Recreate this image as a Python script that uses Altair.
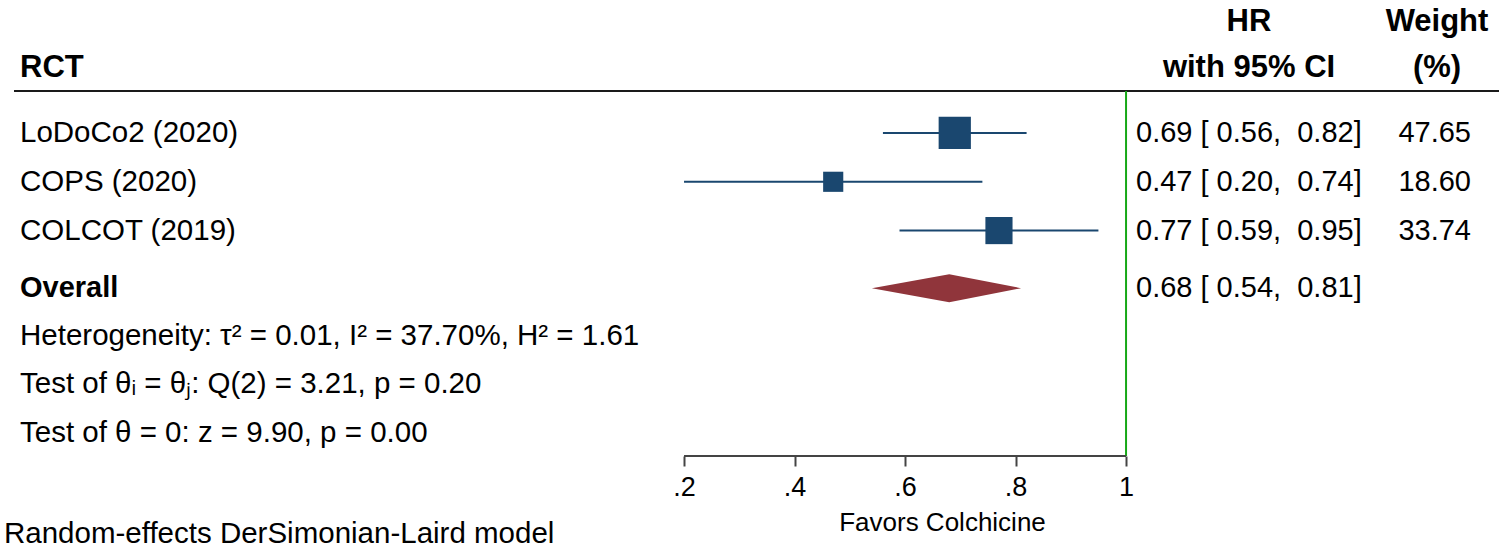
import altair as alt
import pandas as pd

# ---------------- data ----------------
studies = ["LoDoCo2 (2020)", "COPS (2020)", "COLCOT (2019)"]
hr = [0.69, 0.47, 0.77]
ci_low = [0.56, 0.20, 0.59]
ci_high = [0.82, 0.74, 0.95]
weights = [47.65, 18.60, 33.74]
study_rows = [1, 2, 3]

overall_label = "Overall"
overall_hr = 0.68
overall_low = 0.54
overall_high = 0.81
overall_row = 4.18

stats_text = [
    "Heterogeneity: τ² = 0.01, I² = 37.70%, H² = 1.61",
    "Test of θᵢ = θⱼ: Q(2) = 3.21, p = 0.20",
    "Test of θ = 0: z = 9.90, p = 0.00",
]
stats_rows = [5.15, 6.15, 7.15]

tick_values = [0.2, 0.4, 0.6, 0.8, 1.0]
null_value = 1.0
x_title = "Favors Colchicine"
note_text = "Random-effects DerSimonian-Laird model"
header_left = "RCT"
header_hr = ["HR", "with 95% CI"]
header_w = ["Weight", "(%)"]
header_rows = [-1.27, -0.33]
header_line_row = 0.139
row_min, row_max = -1.725, 7.619

# ---------------- styles ----------------
FONT = "Liberation Sans"
NAVY = "#1a476f"
MAROON = "#90353b"
GREEN = "#16a816"
BODY = 29.5
NUM = 29
HEAD = 31

W, H = 1499, 456

xscale = alt.Scale(domain=[-1.038, 1.675], nice=False, zero=False)
yscale = alt.Scale(domain=[row_min, row_max], reverse=True, nice=False, zero=False)

xaxis = alt.Axis(
    values=tick_values,
    labelExpr="datum.value == 1 ? '1' : replace(format(datum.value, '.1f'), '0.', '.')",
    domain=False, grid=False, ticks=True, tickSize=10, tickWidth=2, tickColor="#444444",
    labelFont=FONT, labelFontSize=27, labelColor="black", labelPadding=21,
    labelBaseline="middle", labelFlush=False, labelOverlap=False,
    title=x_title, titleFont=FONT, titleFontSize=26, titleFontWeight="normal",
    titleColor="black", titleX=942, titleY=66, titleBaseline="middle", titleAlign="center",
)
yaxis = None

def X(field):
    return alt.X(field, type="quantitative", scale=xscale, axis=xaxis)

def Y(field):
    return alt.Y(field, type="quantitative", scale=yscale, axis=yaxis)

studies_df = pd.DataFrame({
    "study": studies, "hr": hr, "lo": ci_low, "hi": ci_high, "w": weights, "row": study_rows,
})
studies_df["hrtext"] = [f"{a:.2f} [ {b:.2f},\u00a0 {c:.2f}]" for a, b, c in zip(hr, ci_low, ci_high)]
studies_df["wtext"] = [f"{w:.2f}" for w in weights]

half_h = 0.287
diamond_df = pd.DataFrame({
    "x": [overall_low, overall_hr, overall_high],
    "y": [overall_row, overall_row - half_h, overall_row],
    "y2": [overall_row, overall_row + half_h, overall_row],
})
overall_df = pd.DataFrame({
    "label": [overall_label], "row": [overall_row],
    "hrtext": [f"{overall_hr:.2f} [ {overall_low:.2f},\u00a0 {overall_high:.2f}]"],
})
stats_df = pd.DataFrame({"text": stats_text, "row": stats_rows})

# header rule
header_rule = alt.Chart(pd.DataFrame({"row": [header_line_row]})).mark_rule(
    color="#1a1a1a", strokeWidth=2
).encode(x=alt.value(14), x2=alt.value(W), y=Y("row"))

# null line
null_rule = alt.Chart(pd.DataFrame({"x": [null_value], "r1": [header_line_row], "r2": [row_max]})).mark_rule(
    color=GREEN, strokeWidth=2
).encode(x=X("x"), y=Y("r1"), y2=alt.Y2("r2"))

# axis baseline
axis_rule = alt.Chart(pd.DataFrame({"a": [tick_values[0]], "b": [tick_values[-1]], "row": [row_max]})).mark_rule(
    color="#444444", strokeWidth=2
).encode(x=X("a"), x2=alt.X2("b"), y=Y("row"))

ci = alt.Chart(studies_df).mark_rule(color=NAVY, strokeWidth=2).encode(
    x=X("lo"), x2=alt.X2("hi"), y=Y("row")
)
squares = alt.Chart(studies_df).mark_square(color=NAVY, opacity=1, filled=True).encode(
    x=X("hr"), y=Y("row"),
    size=alt.Size("w:Q", scale=alt.Scale(domain=[0, max(weights)], range=[0, 1040]), legend=None),
)
diamond = alt.Chart(diamond_df).mark_area(color=MAROON, opacity=1, orient="vertical").encode(
    x=X("x"), y=Y("y"), y2=alt.Y2("y2")
)

def text_layer(df, field, xpx, align="left", bold=False, size=BODY):
    return alt.Chart(df).mark_text(
        align=align, baseline="middle", font=FONT, fontSize=size,
        fontWeight="bold" if bold else "normal", color="black",
    ).encode(x=alt.value(xpx), y=Y("row"), text=alt.Text(field))

study_labels = text_layer(studies_df, "study", 20)
hr_texts = text_layer(studies_df, "hrtext", 1136, size=NUM)
w_texts = text_layer(studies_df, "wtext", 1471, align="right", size=NUM)
overall_lab = text_layer(overall_df, "label", 20, bold=True, size=29)
overall_hrtext = text_layer(overall_df, "hrtext", 1136, size=NUM)
stats_lab = text_layer(stats_df, "text", 20)

head_left = text_layer(pd.DataFrame({"t": [header_left], "row": [header_rows[1]]}), "t", 20, bold=True, size=HEAD)
head_hr = text_layer(pd.DataFrame({"t": header_hr, "row": header_rows}), "t", 1249, align="center", bold=True, size=HEAD)
head_w = text_layer(pd.DataFrame({"t": header_w, "row": header_rows}), "t", 1437, align="center", bold=True, size=HEAD)

note = alt.Chart(pd.DataFrame({"t": [note_text]})).mark_text(
    align="left", baseline="middle", font=FONT, fontSize=BODY, color="black"
).encode(x=alt.value(4), y=alt.value(534), text="t:N")

chart = alt.layer(
    header_rule, null_rule, axis_rule, ci, squares, diamond,
    study_labels, hr_texts, w_texts, overall_lab, overall_hrtext, stats_lab,
    head_left, head_hr, head_w, note,
).properties(
    width=W, height=H,
    padding={"left": 0, "right": 0, "top": 0, "bottom": 92},
    autosize=alt.AutoSizeParams(type="none"),
    background="white",
).configure_view(stroke=None)

chart.save("out.html", embed_options={"renderer": "svg", "actions": False})
